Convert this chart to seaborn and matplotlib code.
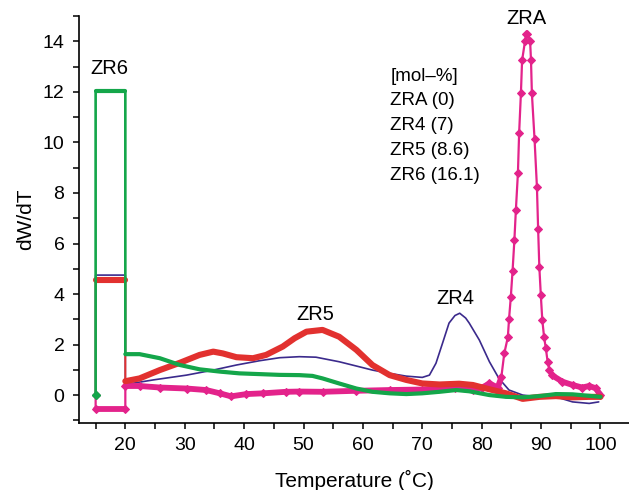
import numpy as np
import pandas as pd
import matplotlib
matplotlib.use("Agg")
import matplotlib.pyplot as plt
import seaborn as sns

# ---------------- data ----------------
series_names = ["ZRA", "ZR4", "ZR5", "ZR6"]
legend_lines = ["[mol\u2013%]", "ZRA (0)", "ZR4 (7)", "ZR5 (8.6)", "ZR6 (16.1)"]

# level of the rectangular step between 15 and 20 degC
rect_start_T = 15
rect_end_T = 20
rect_level = {"ZRA": -0.55, "ZR4": 4.75, "ZR5": 4.56, "ZR6": 12.05}

zra_T = [20, 22.4, 25.8, 30.3, 33.6, 35.9, 37.8, 40.4, 43.2, 47.1, 49.3, 53.2, 58.9,
         64.5, 70.0, 72.9, 75.5, 78.5, 80.1, 81.3, 82.7, 83.3, 83.8, 84.4, 84.6, 84.9,
         85.2, 85.5, 85.75, 86.1, 86.3, 86.6, 86.8, 87.3, 87.5, 87.7, 88.15, 88.3, 88.45,
         88.9, 89.3, 89.5, 89.7, 89.95, 90.2, 90.5, 90.8, 91.1, 91.4, 91.8, 93.6, 95.3,
         96.9, 98.1, 99.2, 100.0]
zra_v = [0.36, 0.36, 0.30, 0.26, 0.20, 0.07, -0.05, 0.04, 0.07, 0.13, 0.14, 0.13, 0.17,
         0.20, 0.22, 0.27, 0.27, 0.20, 0.30, 0.46, 0.30, 0.70, 1.65, 2.29, 3.00, 3.88,
         4.93, 6.12, 7.31, 8.80, 10.36, 11.94, 13.25, 14.02, 14.30, 14.30, 14.02, 13.25, 11.94,
         10.12, 8.23, 6.58, 5.09, 3.97, 2.98, 2.30, 1.85, 1.32, 0.99, 0.79, 0.53, 0.40,
         0.30, 0.36, 0.27, 0.0]

zr4_T = [20, 24.7, 30.3, 34.8, 38.7, 42.6, 46.0, 49.3, 52.1, 56.0, 58.9, 61.6, 64.5,
         67.3, 70.0, 71.2, 72.3, 73.4, 74.5, 75.5, 76.3, 77.3, 77.9, 79.6, 81.3, 82.9,
         84.6, 86.9, 89.7, 92.5, 95.3, 98.1, 99.7]
zr4_v = [0.42, 0.60, 0.79, 0.99, 1.19, 1.36, 1.48, 1.52, 1.50, 1.32, 1.15, 0.99, 0.86,
         0.75, 0.70, 0.79, 1.26, 2.05, 2.85, 3.15, 3.24, 3.05, 2.85, 2.18, 1.32, 0.66,
         0.20, 0.0, -0.07, -0.07, -0.27, -0.33, -0.27]

zr5_T = [20, 22.4, 25.8, 29.2, 32.5, 34.8, 36.4, 38.7, 41.5, 43.7, 46.5, 48.5, 50.5,
         53.2, 56.0, 58.9, 61.6, 64.5, 67.3, 70.0, 72.9, 76.2, 78.5, 81.3, 84.1, 86.9,
         89.7, 92.5, 95.3, 98.1, 100.0]
zr5_v = [0.55, 0.66, 0.99, 1.28, 1.59, 1.72, 1.65, 1.50, 1.46, 1.59, 1.92, 2.25, 2.51,
         2.58, 2.31, 1.79, 1.19, 0.79, 0.60, 0.46, 0.42, 0.45, 0.40, 0.23, 0.07, -0.15,
         -0.07, -0.04, -0.09, -0.07, -0.07]

zr6_T = [20, 22.4, 25.8, 29.2, 32.5, 35.9, 39.2, 42.6, 46.0, 49.3, 51.5, 53.2, 56.0,
         58.9, 61.6, 64.5, 67.3, 70.0, 72.9, 75.7, 77.9, 81.3, 84.1, 86.9, 89.7, 92.5,
         95.3, 98.1, 100.0]
zr6_v = [1.62, 1.62, 1.46, 1.19, 1.02, 0.93, 0.86, 0.83, 0.80, 0.79, 0.76, 0.66, 0.46,
         0.26, 0.13, 0.07, 0.04, 0.07, 0.13, 0.20, 0.15, 0.0, -0.07, -0.09, -0.04, 0.04,
         0.03, -0.03, -0.07]

curves = {"ZRA": (zra_T, zra_v), "ZR4": (zr4_T, zr4_v),
          "ZR5": (zr5_T, zr5_v), "ZR6": (zr6_T, zr6_v)}

colors = {"ZRA": "#E3238B", "ZR4": "#3B2A8C", "ZR5": "#E2312F", "ZR6": "#14A64A"}

# ---------------- figure ----------------
sns.set_style("ticks")
plt.rcParams["font.family"] = ["Liberation Sans", "DejaVu Sans"]
plt.rcParams["text.color"] = "black"
plt.rcParams["axes.labelcolor"] = "black"
plt.rcParams["xtick.color"] = "black"
plt.rcParams["ytick.color"] = "black"

fig = plt.figure(figsize=(6.29, 4.90), dpi=100)
ax = fig.add_axes([0.1256, 0.137, 0.8744, 0.83])


def full_path(name):
    T, v = curves[name]
    lvl = rect_level[name]
    xs = [rect_start_T, rect_start_T, rect_end_T] + list(T)
    ys = [0.0, lvl, lvl] + list(v)
    return pd.DataFrame({"T": xs, "v": ys})


def draw(name, thin_lw, thick_lw, marker=None, ms=0, thick_max=None, z=2):
    c = colors[name]
    df = full_path(name)
    # thin connecting path (incl. vertical jumps)
    sns.lineplot(data=df, x="T", y="v", sort=False, estimator=None, ax=ax,
                 color=c, lw=thin_lw, marker=marker, markersize=ms,
                 markeredgecolor=c, markerfacecolor=c, zorder=z)
    if thick_lw:
        lvl = rect_level[name]
        top = pd.DataFrame({"T": [rect_start_T, rect_end_T], "v": [lvl, lvl]})
        sns.lineplot(data=top, x="T", y="v", sort=False, estimator=None, ax=ax,
                     color=c, lw=thick_lw, zorder=z)
        T, v = curves[name]
        vv = np.array(v, dtype=float)
        if thick_max is not None:
            vv = np.where(vv > thick_max, np.nan, vv)
        cdf = pd.DataFrame({"T": T, "v": vv})
        ax.plot(cdf["T"], cdf["v"], color=c, lw=thick_lw, zorder=z,
                solid_capstyle="round")


draw("ZR4", 1.2, 0, z=2)
draw("ZRA", 1.6, 4.2, marker="D", ms=4.5, thick_max=0.9, z=3)
draw("ZR5", 1.4, 4.4, z=4)
draw("ZR6", 1.9, 3.0, z=5)

# start marker at (15, 0)
ax.plot([rect_start_T], [0], marker="D", ms=4.5, color=colors["ZR6"], zorder=6)

# ---------------- axes ----------------
ax.set_xlim(12.2, 104.8)
ax.set_ylim(-1.1, 15.0)
xt = list(range(15, 101, 5))
ax.set_xticks(xt)
ax.set_xticklabels([str(t) if t % 10 == 0 else "" for t in xt])
yt = list(range(-1, 16))
ax.set_yticks(yt)
ax.set_yticklabels([str(t) if (t % 2 == 0 and 0 <= t <= 14) else "" for t in yt])
ax.tick_params(axis="both", direction="out", length=4.5, width=1.1,
               labelsize=14, colors="black", pad=6)
for s in ["left", "bottom"]:
    ax.spines[s].set_linewidth(1.2)
    ax.spines[s].set_color("black")
sns.despine(ax=ax)

ax.set_xlabel("Temperature (\u02daC)", fontsize=15, labelpad=11)
ax.set_ylabel("dW/dT", fontsize=15, labelpad=5)

# ---------------- annotations ----------------
ax.text(17.3, 12.55, "ZR6", fontsize=14.5, ha="center", va="bottom")
ax.text(52.0, 2.8, "ZR5", fontsize=14.5, ha="center", va="bottom")
ax.text(75.6, 3.45, "ZR4", fontsize=14.5, ha="center", va="bottom")
ax.text(87.6, 14.52, "ZRA", fontsize=14.5, ha="center", va="bottom")

y0 = 12.63
for i, line in enumerate(legend_lines):
    ax.text(64.6, y0 - i * 0.985, line, fontsize=13.5, ha="left", va="center")

fig.savefig("out.png", dpi=100)
